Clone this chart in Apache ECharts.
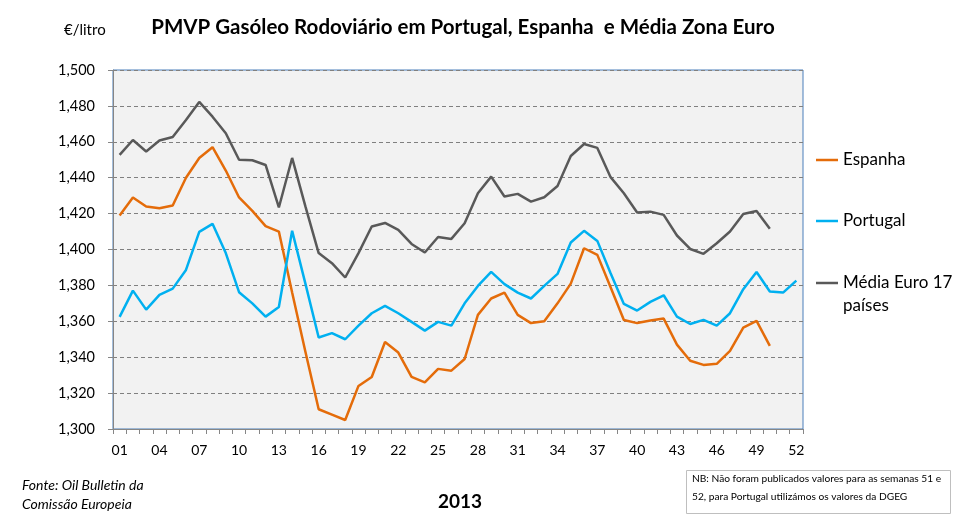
<!DOCTYPE html>
<html><head><meta charset="utf-8">
<script src="https://cdn.jsdelivr.net/npm/echarts@6/dist/echarts.min.js"></script>
<style>html,body{margin:0;padding:0;background:#fff}#c{width:965px;height:524px}</style>
</head><body><div id="c"></div>
<script>
const weeks = ['01','02','03','04','05','06','07','08','09','10','11','12','13','14','15','16','17','18','19','20','21','22','23','24','25','26','27','28','29','30','31','32','33','34','35','36','37','38','39','40','41','42','43','44','45','46','47','48','49','50','51','52'];
const espanha = [1.419,1.429,1.424,1.423,1.4245,1.440,1.451,1.457,1.444,1.429,1.4215,1.413,1.410,1.376,1.343,1.311,1.308,1.305,1.324,1.329,1.3485,1.3426,1.329,1.326,1.3335,1.3325,1.339,1.3636,1.3727,1.376,1.3636,1.359,1.360,1.370,1.381,1.4007,1.397,1.379,1.3607,1.359,1.3604,1.3615,1.347,1.338,1.3357,1.3363,1.3435,1.3565,1.3602,1.3463,null,null];
const portugal = [1.3625,1.3771,1.3665,1.3747,1.3782,1.3886,1.4098,1.4143,1.398,1.3762,1.370,1.3626,1.368,1.4104,1.381,1.351,1.3534,1.350,1.3576,1.3645,1.3686,1.3645,1.3597,1.3548,1.3597,1.3576,1.370,1.3797,1.3875,1.3807,1.376,1.3727,1.3797,1.3864,1.4039,1.4104,1.4048,1.3868,1.3697,1.366,1.3708,1.3745,1.3626,1.3585,1.3608,1.3576,1.3645,1.3779,1.3875,1.3766,1.376,1.3827];
const mediaEuro = [1.4527,1.461,1.4546,1.4607,1.4627,1.4722,1.4822,1.474,1.4648,1.450,1.4497,1.4471,1.4234,1.451,1.424,1.398,1.3924,1.3844,1.398,1.4128,1.4148,1.4109,1.4031,1.3983,1.407,1.4059,1.4146,1.4313,1.4406,1.4295,1.431,1.4267,1.4291,1.4354,1.4521,1.4588,1.4566,1.4403,1.4313,1.4206,1.4211,1.4193,1.4078,1.4003,1.3976,1.4035,1.410,1.4198,1.4215,1.4115,null,null];
const seriesNames = ['Espanha','Portugal','Média Euro 17 países'];
const colors = ['#E46C0A','#00B0F0','#595959'];
const FONT = 'Lato';
const chart = echarts.init(document.getElementById('c'));
function mkSeries(name, data, color){
  return {name:name,type:'line',data:data,symbol:'none',connectNulls:false,
    lineStyle:{color:color,width:2.5},itemStyle:{color:color},animation:false};
}
function mkLegend(name, top){
  return {data:[name],left:816,top:top,padding:0,orient:'vertical',itemWidth:22,itemHeight:10,itemGap:0,
    icon:'path://M0,4 L22,4 L22,6.5 L0,6.5 Z',
    formatter:function(n){return n==='Média Euro 17 países'?'Média Euro 17':n;},
    textStyle:{fontFamily:FONT,fontSize:17,color:'#000',lineHeight:23},selectedMode:false};
}
chart.setOption({
  animation:false,
  backgroundColor:'#ffffff',
  title:[{text:'PMVP Gasóleo Rodoviário em Portugal, Espanha  e Média Zona Euro',left:458,textAlign:'center',top:12,
    textStyle:{fontFamily:FONT,fontWeight:'bold',fontSize:20.5,color:'#000'}},
    {text:'€/litro',left:59,top:18,textStyle:{fontFamily:FONT,fontWeight:'normal',fontSize:15,color:'#000'}},
    {text:'2013',left:455,textAlign:'center',top:487,textStyle:{fontFamily:FONT,fontWeight:'bold',fontSize:19,color:'#000'}}
  ],
  legend:[mkLegend(seriesNames[0],148.5),mkLegend(seriesNames[1],209.5),mkLegend(seriesNames[2],271.5)],
  grid:{left:113,right:162,top:70,bottom:95,show:true,backgroundColor:'#f2f2f2',borderColor:'#4a7ebb',borderWidth:1},
  xAxis:{type:'category',data:weeks,boundaryGap:true,
    axisLine:{lineStyle:{color:'#868686',width:1}},
    axisTick:{show:true,interval:0,length:5,lineStyle:{color:'#868686'}},
    axisLabel:{interval:2,fontFamily:FONT,fontSize:14,color:'#000',margin:14},
    splitLine:{show:false}},
  yAxis:{type:'value',min:1.3,max:1.5,interval:0.02,
    axisLine:{show:true,lineStyle:{color:'#868686',width:1}},
    axisTick:{show:true,length:5,lineStyle:{color:'#868686'}},
    axisLabel:{fontFamily:FONT,fontSize:14.5,color:'#000',margin:18,formatter:function(v){return v.toFixed(3).replace('.',',');}},
    splitLine:{show:true,lineStyle:{color:'#808080',type:[4,3],width:1}}},
  series:[mkSeries(seriesNames[0],espanha,colors[0]),mkSeries(seriesNames[1],portugal,colors[1]),mkSeries(seriesNames[2],mediaEuro,colors[2])],
  graphic:[
    {type:'text',left:843,top:294.5,style:{text:'países',fontFamily:FONT,fontSize:17,lineHeight:23,fill:'#000'}},
    {type:'text',left:22,top:476,style:{text:'Fonte: Oil Bulletin da\nComissão Europeia',fontFamily:FONT,fontStyle:'italic',fontSize:14,lineHeight:19,fill:'#000'}},
    {type:'rect',left:686,top:470,shape:{width:264,height:43},style:{fill:'#fff',stroke:'#bfbfbf',lineWidth:1}},
    {type:'text',left:692,top:470,style:{text:'NB: Não foram publicados valores para as semanas 51 e\n52, para Portugal utilizámos os valores da DGEG',fontFamily:FONT,fontSize:10.2,lineHeight:18,fill:'#000'}}
  ]
});
</script></body></html>
